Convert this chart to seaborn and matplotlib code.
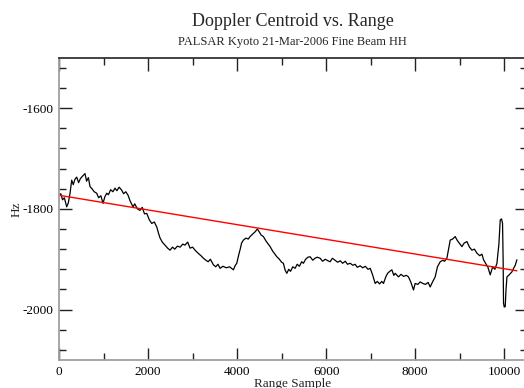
import numpy as np
import pandas as pd
import matplotlib
matplotlib.use("Agg")
import matplotlib.pyplot as plt
import seaborn as sns
from matplotlib.ticker import MultipleLocator

# ---- data ----
range_sample = [0, 40, 80, 120, 173, 210, 250, 285, 320, 360, 398, 440, 480, 530, 584, 620, 660,
                697, 740, 790, 847, 890, 940, 989,
                1030, 1072, 1110, 1160, 1210, 1258, 1300, 1350, 1409, 1450, 1500, 1551, 1600,
                1663, 1700, 1760, 1820, 1870, 1920, 1971,
                2030, 2083, 2140, 2196, 2240, 2270, 2320, 2380, 2440, 2494, 2550, 2600, 2660,
                2720, 2780, 2830, 2890, 2944, 3000,
                3056, 3100, 3150, 3200, 3243, 3300, 3350, 3400, 3467, 3520, 3570, 3618, 3680,
                3760, 3830, 3917, 3960, 3993,
                4040, 4070, 4100, 4142, 4200, 4250, 4292, 4350, 4400, 4456, 4500, 4540, 4591,
                4650, 4700, 4742, 4800, 4850, 4892, 4950, 5000, 5040,
                5080, 5117, 5160, 5200, 5250, 5303, 5350, 5400, 5450, 5490, 5540, 5590, 5640,
                5700, 5750, 5800, 5865, 5920, 5980,
                6040, 6090, 6140, 6200, 6260, 6315, 6370, 6430, 6480, 6539, 6600, 6650, 6700,
                6764, 6820, 6880, 6940, 6989,
                7040, 7101, 7150, 7200, 7250, 7288, 7340, 7380, 7430, 7476, 7520, 7550, 7625,
                7680, 7740, 7800, 7849, 7900, 7962, 8000,
                8060, 8112, 8170, 8230, 8290, 8337, 8390, 8449, 8500, 8562, 8620, 8660, 8712,
                8750, 8787, 8840, 8899, 8940, 8990,
                9049, 9100, 9162, 9220, 9274, 9330, 9387, 9450, 9500, 9535, 9580, 9630, 9685,
                9740, 9790, 9836, 9880, 9910, 9940, 9962, 9975, 9984, 10000, 10022, 10040,
                10061, 10100, 10140, 10173, 10210, 10247, 10285]
doppler_hz = [-1775, -1770, -1782, -1778, -1796, -1788, -1768, -1743, -1752, -1741, -1737, -1748,
              -1740, -1735, -1730, -1745, -1738, -1756, -1760, -1766, -1769, -1778, -1774, -1789,
              -1776, -1769, -1772, -1762, -1766, -1759, -1764, -1757, -1763, -1770, -1766, -1773,
              -1785, -1796, -1790, -1800, -1803, -1797, -1810, -1809,
              -1822, -1829, -1826, -1836, -1850, -1858, -1866, -1872, -1878, -1882, -1876, -1880,
              -1874, -1876, -1870, -1872, -1866, -1878, -1876,
              -1882, -1886, -1890, -1894, -1898, -1902, -1905, -1900, -1911, -1915, -1910, -1918,
              -1914, -1917, -1915, -1921, -1912, -1908,
              -1890, -1880, -1868, -1862, -1858, -1860, -1855, -1850, -1846, -1840, -1846, -1852,
              -1855, -1864, -1870, -1875, -1884, -1890, -1895, -1900, -1906, -1908,
              -1922, -1928, -1920, -1924, -1915, -1918, -1910, -1914, -1905, -1908, -1900, -1896,
              -1895, -1902, -1898, -1896, -1898, -1904, -1900,
              -1903, -1905, -1898, -1902, -1906, -1903, -1908, -1904, -1910, -1908, -1912, -1910,
              -1916, -1913, -1917, -1914, -1920, -1918,
              -1930, -1948, -1944, -1949, -1944, -1948, -1935, -1928, -1924, -1921, -1932, -1928,
              -1935, -1930, -1934, -1932, -1935, -1945, -1961, -1948,
              -1950, -1945, -1948, -1950, -1946, -1955, -1945, -1935, -1915, -1905, -1902, -1904,
              -1898, -1880, -1862, -1860, -1855, -1862, -1868,
              -1875, -1868, -1865, -1876, -1882, -1880, -1888, -1893, -1890, -1901, -1908, -1915,
              -1931, -1915, -1920, -1908, -1870, -1822, -1820, -1829, -1900, -1987, -1995, -1994,
              -1960, -1935, -1932, -1928, -1925, -1918, -1912, -1901]

fit_x = [0, 10285]
fit_y = [-1773, -1923]

title = "Doppler Centroid vs. Range"
subtitle = "PALSAR Kyoto 21-Mar-2006 Fine Beam HH"
x_label = "Range Sample"
y_label = "Hz"
x_ticks = [0, 2000, 4000, 6000, 8000, 10000]
y_ticks = [-2000, -1800, -1600]

sns.set_style("ticks")
plt.rcParams["font.family"] = ["Liberation Serif", "DejaVu Serif"]
plt.rcParams["axes.unicode_minus"] = False

fig = plt.figure(figsize=(5.24, 3.88), dpi=100)
W, H = 524, 388
ax = fig.add_axes([59 / W, (H - 360) / H, (526.5 - 59) / W, (360 - 57.7) / H])

curve = pd.DataFrame({"x": range_sample, "y": doppler_hz})
fit = pd.DataFrame({"x": fit_x, "y": fit_y})
sns.lineplot(data=curve, x="x", y="y", ax=ax, color="black", lw=0.9, estimator=None, sort=False)
sns.lineplot(data=fit, x="x", y="y", ax=ax, color="#ff0000", lw=1.0, estimator=None, sort=False)

ax.set_xlim(0, 10500)
ax.set_ylim(-2100, -1500)
ax.set_xticks(x_ticks)
ax.set_yticks(y_ticks)
ax.xaxis.set_minor_locator(MultipleLocator(1000))
ax.yaxis.set_minor_locator(MultipleLocator(40))
ax.tick_params(which="both", direction="in", top=True, right=True, labelsize=9.5,
               colors="#222222", labelcolor="black", pad=4)
ax.tick_params(which="major", length=9, width=1)
ax.tick_params(which="minor", length=5, width=1)

for side in ["left", "bottom", "right"]:
    ax.spines[side].set_color("#a0a0a0")
    ax.spines[side].set_linewidth(1.3)
ax.spines["top"].set_color("#222222")
ax.spines["top"].set_linewidth(1.2)

ax.set_xlabel(x_label, fontsize=9.5, labelpad=0)
ax.set_ylabel(y_label, fontsize=9.5, labelpad=0)

fig.text(292.5 / W, 1 - 22 / H, title, ha="center", va="center", fontsize=13)
fig.text(292.5 / W, 1 - 42 / H, subtitle, ha="center", va="center", fontsize=9)

fig.savefig("out.png", dpi=100)
